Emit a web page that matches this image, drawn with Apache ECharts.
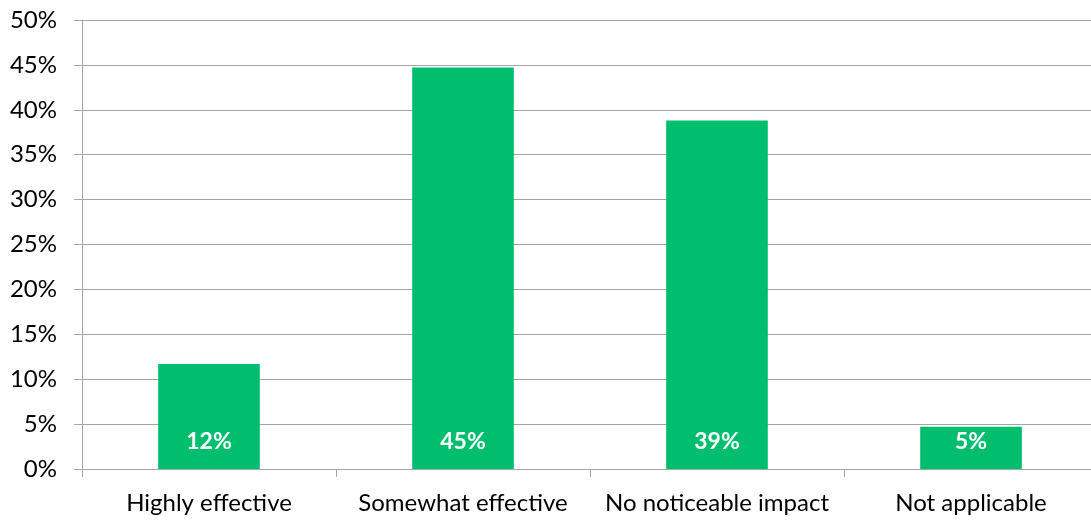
<!DOCTYPE html>
<html>
<head>
<meta charset="utf-8">
<script src="https://cdn.jsdelivr.net/npm/echarts@6/dist/echarts.min.js"></script>
<style>
  html, body { margin: 0; padding: 0; background: #fff; overflow: hidden; }
  #chart { width: 1100px; height: 521px; }
</style>
</head>
<body>
<div id="chart"></div>
<script>
// Survey responses: perceived effectiveness
const categories = ['Highly effective', 'Somewhat effective', 'No noticeable impact', 'Not applicable'];
const shares = [11.7, 44.7, 38.8, 4.7];
const yTicks = { min: 0, max: 50, step: 5 };

const FONT = 'Lato, "Open Sans", sans-serif';
const GRID = '#a6a6a6';

// the plot runs slightly past the right edge of the visible page
const chart = echarts.init(document.getElementById('chart'));
chart.setOption({
  animation: false,
  grid: { left: 82, right: 2, top: 20, bottom: 52, containLabel: false },
  xAxis: {
    type: 'category',
    data: categories,
    axisLine: { lineStyle: { color: GRID, width: 1 } },
    axisTick: { show: true, length: 8, alignWithLabel: false, lineStyle: { color: GRID } },
    axisLabel: { color: '#000', fontFamily: FONT, fontSize: 24, margin: 22, interval: 0 }
  },
  yAxis: {
    type: 'value',
    min: yTicks.min,
    max: yTicks.max,
    interval: yTicks.step,
    axisLine: { show: true, lineStyle: { color: GRID, width: 1 } },
    axisTick: { show: true, length: 8, lineStyle: { color: GRID } },
    splitLine: { lineStyle: { color: GRID, width: 1 } },
    axisLabel: { color: '#000', fontFamily: FONT, fontSize: 24, margin: 25, formatter: v => v + '%' }
  },
  series: [{
    type: 'bar',
    data: shares,
    barWidth: '40%',
    itemStyle: { color: '#00be6e' },
    label: {
      show: true,
      position: 'insideBottom',
      distance: 16,
      color: '#fff',
      fontFamily: FONT,
      fontWeight: 'bold',
      fontSize: 23,
      formatter: p => Math.round(p.value) + '%'
    }
  }]
});
</script>
</body>
</html>
